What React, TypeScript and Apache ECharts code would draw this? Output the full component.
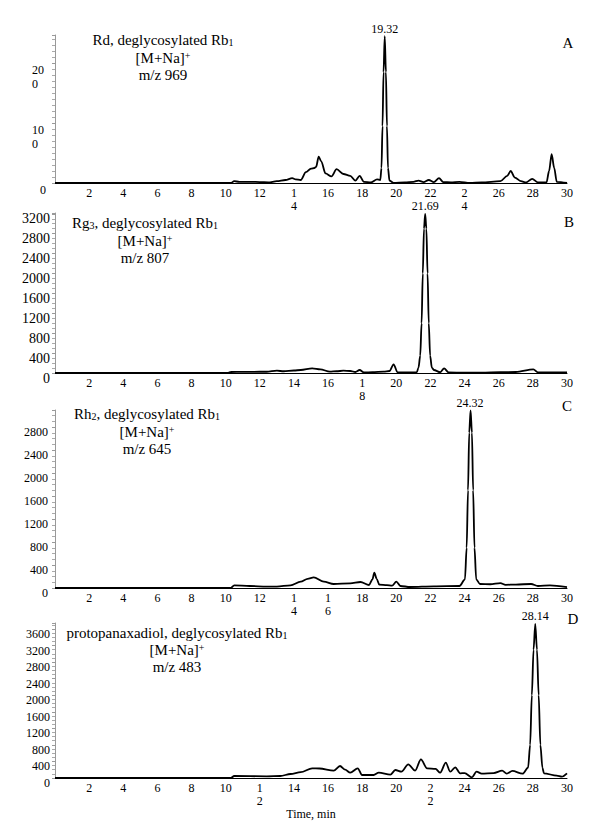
import React, { useEffect, useRef } from 'react';
import * as echarts from 'echarts';

const FONT = '"Liberation Serif", "Times New Roman", serif';

// ---- data (time in min, intensity) ----
const seriesA: number[][] = [
  [0, 0], [10.3, 0], [10.5, 3], [10.8, 2], [11.5, 2], [12, 1.5], [12.5, 1], [13, 3], [13.5, 5], [13.9, 8],
  [14.1, 6], [14.4, 5], [14.7, 18], [15.0, 24], [15.2, 25], [15.3, 27], [15.45, 44], [15.6, 36], [15.85, 16],
  [16.2, 11], [16.5, 23], [16.9, 15], [17.3, 12], [17.6, 4], [17.85, 12], [18.1, 2], [18.5, 1], [18.87, 6],
  [19.06, 5], [19.13, 25], [19.19, 95], [19.25, 185], [19.32, 245], [19.39, 185], [19.45, 95], [19.51, 25],
  [19.6, 4], [19.84, 0], [20.5, 1], [21, 2], [21.3, 4], [21.6, 1.5], [21.9, 5], [22.2, 1.5], [22.5, 8],
  [22.75, 1.5], [23.2, 1], [23.7, 2], [24.3, 0], [25, 1], [26.1, 3], [26.5, 12], [26.7, 20], [26.95, 9],
  [27.3, 3], [27.6, 1], [27.96, 7], [28.3, 1], [28.8, 1], [28.95, 20], [29.1, 48], [29.25, 25], [29.4, 2], [30, 0],
];
const seriesB: number[][] = [
  [0, 0], [10.1, 0], [10.3, 20], [11, 22], [12, 25], [12.4, 25], [13, 46], [13.4, 35], [14, 50], [14.4, 60],
  [15.07, 94], [15.55, 74], [16.1, 27], [16.5, 35], [16.9, 46], [17.3, 40], [17.6, 20], [17.85, 60], [18.1, 13],
  [18.6, 15], [19.26, 27], [19.6, 40], [19.84, 174], [20.07, 15], [20.5, 10], [21.2, 15], [21.3, 110],
  [21.4, 350], [21.48, 1000], [21.55, 2000], [21.62, 2900], [21.69, 3200], [21.76, 2900], [21.83, 2000],
  [21.9, 1000], [21.98, 350], [22.08, 110], [22.2, 60], [22.57, 15], [22.8, 94], [23.06, 13], [24, 5], [25, 8],
  [26.1, 15], [27, 20], [28.03, 74], [28.3, 12], [29, 10], [30, 10],
];
const seriesC: number[][] = [
  [0, 0], [10.3, 0], [10.5, 47], [11.4, 35], [12.4, 23], [13, 25], [13.8, 47], [14.4, 110], [14.8, 160],
  [15.16, 186], [15.75, 110], [16.33, 70], [17.3, 80], [17.9, 104], [18.4, 52], [18.6, 150], [18.71, 267],
  [18.85, 160], [19.0, 60], [19.45, 50], [19.75, 40], [20.0, 110], [20.24, 35], [20.8, 17], [22.2, 30],
  [23.7, 35], [24.02, 150], [24.12, 700], [24.2, 1700], [24.27, 2700], [24.35, 3090], [24.43, 2700],
  [24.5, 1700], [24.58, 700], [24.68, 150], [24.9, 70], [25.5, 65], [26.1, 85], [26.4, 55], [27, 60],
  [27.9, 70], [28.3, 35], [29, 45], [30, 17],
];
const seriesD: number[][] = [
  [0, 0], [10.3, 0], [10.5, 48], [12.4, 40], [13.2, 48], [13.8, 97], [14.4, 140], [15.07, 234], [15.5, 230],
  [16.33, 177], [16.7, 290], [17.0, 200], [17.3, 128], [17.74, 234], [17.99, 72], [18.67, 72], [18.97, 128],
  [19.65, 80], [19.94, 193], [20.3, 153], [20.7, 330], [21.1, 177], [21.44, 450], [21.8, 234], [22.3, 218],
  [22.57, 128], [22.9, 370], [23.16, 153], [23.45, 258], [23.74, 113], [24.0, 118], [24.43, 16], [24.7, 153],
  [25.0, 105], [25.7, 118], [26.2, 177], [26.47, 105], [26.8, 170], [27.4, 105], [27.72, 250], [27.84, 800],
  [27.94, 2000], [28.04, 3100], [28.14, 3720], [28.24, 3100], [28.34, 2000], [28.44, 800], [28.56, 250],
  [28.65, 113], [29.4, 56], [29.7, 32], [30, 113],
];

const peakTimes = [19.32, 21.69, 24.32, 28.14];
const peakValues = [245, 3200, 3090, 3720];

const yMaxes = [247, 3216, 3096, 3744];
const yIntervals = [100, 400, 400, 400];
const xMin = 0;
const xMax = 30;
const xInterval = 2;
// x tick labels that are broken onto two lines in the original
const wrappedXA = [14, 24];
const wrappedXB = [18];
const wrappedXC = [14, 16];
const wrappedXD = [12, 22];

const panelLetters = ['A', 'B', 'C', 'D'];
const compoundNames = [['Rd', ''], ['Rg', '3'], ['Rh', '2'], ['protopanaxadiol', '']];
const ionLabel = '[M+Na]';
const mzValues = [969, 807, 645, 483];
const xAxisTitle = 'Time, min';

// ---- layout ----
const PLOT_LEFT = 55;
const PLOT_WIDTH = 512;
const panels = [
  { top: 35, height: 148, yFont: 12, yMargin: 9, minorSplit: 10, title: { x: 163, y: [40, 58, 75] }, letter: { x: 568, y: 43 } },
  { top: 213, height: 160, yFont: 14, yMargin: 5, minorSplit: 4, title: { x: 145, y: [223, 241, 258] }, letter: { x: 569, y: 222 } },
  { top: 410, height: 178, yFont: 12, yMargin: 7, minorSplit: 4, title: { x: 147, y: [414, 432, 449] }, letter: { x: 567, y: 406 } },
  { top: 623, height: 155, yFont: 12, yMargin: 5, minorSplit: 4, title: { x: 177, y: [633, 650, 667] }, letter: { x: 573, y: 619 } },
];

function buildOption() {
  const allData = [seriesA, seriesB, seriesC, seriesD];
  const wrapped = [wrappedXA, wrappedXB, wrappedXC, wrappedXD];

  const grid = panels.map((p) => ({ left: PLOT_LEFT, width: PLOT_WIDTH, top: p.top, height: p.height }));

  const xAxis = panels.map((p, i) => ({
    type: 'value',
    gridIndex: i,
    min: xMin,
    max: xMax,
    interval: xInterval,
    axisLine: { show: true, lineStyle: { color: '#000', width: 1 } },
    axisTick: { show: false },
    splitLine: { show: false },
    axisLabel: {
      margin: 4,
      fontSize: 12,
      lineHeight: 12.5,
      color: '#000',
      fontFamily: FONT,
      formatter: (v: number) => {
        if (v === 0) return '';
        const s = String(v);
        return wrapped[i].includes(v) ? s.split('').join('\n') : s;
      },
    },
    name: i === 3 ? xAxisTitle : '',
    nameLocation: 'middle',
    nameGap: 17,
    nameTextStyle: { fontSize: 12, color: '#000', fontFamily: FONT },
  }));

  const yAxis = panels.map((p, i) => ({
    type: 'value',
    gridIndex: i,
    min: 0,
    max: yMaxes[i],
    interval: yIntervals[i],
    axisLine: { show: true, lineStyle: { color: '#999', width: 1 } },
    axisTick: { show: true, length: 3, lineStyle: { color: '#999' } },
    minorTick: { show: true, splitNumber: p.minorSplit, length: 3, lineStyle: { color: '#aaa' } },
    splitLine: { show: false },
    minorSplitLine: { show: false },
    axisLabel: {
      margin: p.yMargin,
      fontSize: p.yFont,
      color: '#000',
      fontFamily: FONT,
      verticalAlign: 'top',
      lineHeight: i === 0 ? 14 : 10,
      formatter: (v: number) => {
        if (v % yIntervals[i] !== 0) return '';
        const s = String(v);
        if (i === 0 && v !== 0) {
          return `{l|${s.slice(0, 2)}}\n{l|${s.slice(2)}}`;
        }
        return s;
      },
      rich: {
        l: { width: 14, align: 'left', fontSize: 12, lineHeight: 14, fontFamily: FONT, color: '#000' },
      },
    },
  }));

  const series = allData.map((d, i) => ({
    type: 'line',
    xAxisIndex: i,
    yAxisIndex: i,
    data: d,
    symbol: 'none',
    showSymbol: false,
    smooth: 0.3,
    smoothMonotone: 'x',
    silent: true,
    lineStyle: { color: '#000', width: 1.8 },
    markPoint: {
      symbol: 'circle',
      symbolSize: 1,
      itemStyle: { color: 'rgba(0,0,0,0)' },
      silent: true,
      label: {
        show: true,
        position: 'top',
        distance: 1,
        formatter: peakTimes[i].toFixed(2),
        fontSize: 12,
        color: '#000',
        fontFamily: FONT,
      },
      data: [{ coord: [peakTimes[i], peakValues[i]] }],
    },
  }));

  const rich = {
    t: { fontSize: 15, lineHeight: 15, fontFamily: FONT, fill: '#000', color: '#000' },
    s: { fontSize: 10, lineHeight: 6, verticalAlign: 'bottom', fontFamily: FONT, fill: '#000', color: '#000' },
    p: { fontSize: 10, lineHeight: 7, verticalAlign: 'top', fontFamily: FONT, fill: '#000', color: '#000' },
  };

  const graphic: any[] = [];
  panels.forEach((p, i) => {
    const [base, sub] = compoundNames[i];
    const line1 = `{t|${base}}` + (sub ? `{s|${sub}}` : '') + `{t|, deglycosylated Rb}{s|1}`;
    const line2 = `{t|${ionLabel}}{p|+}`;
    const line3 = `{t|m/z ${mzValues[i]}}`;
    [line1, line2, line3].forEach((txt, k) => {
      graphic.push({
        type: 'text',
        x: p.title.x,
        y: p.title.y[k],
        silent: true,
        style: {
          text: txt,
          rich,
          align: 'center',
          verticalAlign: 'middle',
          textAlign: 'center',
          textVerticalAlign: 'middle',
          fill: '#000',
          fontSize: 15,
          fontFamily: FONT,
        },
      });
    });
    graphic.push({
      type: 'text',
      x: p.letter.x,
      y: p.letter.y,
      silent: true,
      style: {
        text: panelLetters[i],
        align: 'center',
        verticalAlign: 'middle',
        textAlign: 'center',
        textVerticalAlign: 'middle',
        fill: '#000',
        fontSize: 15,
        fontFamily: FONT,
      },
    });
  });

  return {
    animation: false,
    backgroundColor: '#fff',
    grid,
    xAxis,
    yAxis,
    series,
    graphic,
  };
}

export default function App() {
  const ref = useRef<HTMLDivElement>(null);
  useEffect(() => {
    if (!ref.current) return;
    const chart = echarts.init(ref.current, null, { renderer: 'svg' });
    chart.setOption(buildOption() as any);
    return () => chart.dispose();
  }, []);
  return (
    <div
      ref={ref}
      style={{ position: 'absolute', left: 0, top: 0, width: 600, height: 829, background: '#fff' }}
    />
  );
}
